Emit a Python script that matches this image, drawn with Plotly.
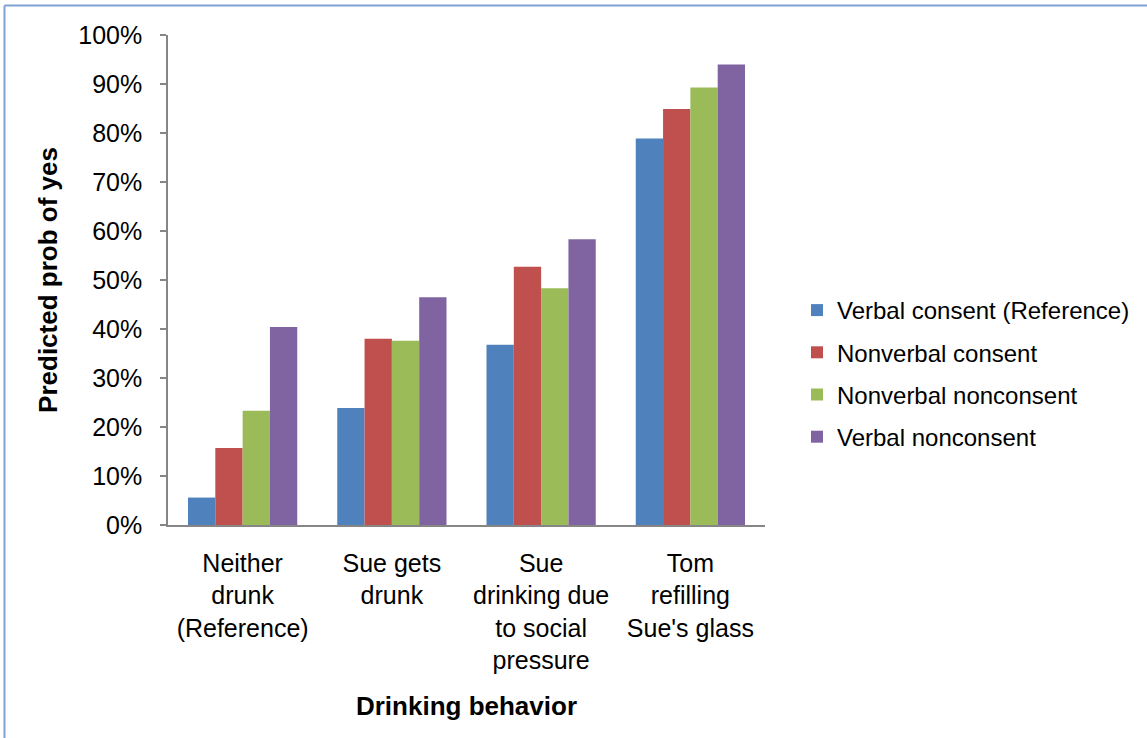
import plotly.graph_objects as go

# Drinking-behavior scenarios (category axis labels)
categories = [
    "Neither<br>drunk<br>(Reference)",
    "Sue gets<br>drunk",
    "Sue<br>drinking due<br>to social<br>pressure",
    "Tom<br>refilling<br>Sue's glass",
]

# Predicted probability of "yes" (%) per consent condition
series_names = [
    "Verbal consent (Reference)",
    "Nonverbal consent",
    "Nonverbal nonconsent",
    "Verbal nonconsent",
]
verbal_consent = [5.6, 23.9, 36.8, 78.9]
nonverbal_consent = [15.7, 38.0, 52.7, 84.9]
nonverbal_nonconsent = [23.3, 37.6, 48.3, 89.3]
verbal_nonconsent = [40.4, 46.5, 58.3, 94.0]

series_values = [verbal_consent, nonverbal_consent, nonverbal_nonconsent, verbal_nonconsent]
colors = ["#4F81BD", "#C0504D", "#9BBB59", "#8064A2"]

FONT = "Liberation Sans, Arial, sans-serif"
AXIS_GRAY = "#868686"

W, H = 1147, 738
L, R, T, B = 168, 382, 35, 213
pw, ph = W - L - R, H - T - B

fig = go.Figure()
for i, (name, vals, col) in enumerate(zip(series_names, series_values, colors)):
    fig.add_trace(go.Bar(
        x=categories, y=vals, name=name,
        marker=dict(color=col, line=dict(width=0)),
        legendgroup=f"g{i}",
    ))


def px_x(x):
    return (x - L) / pw


def px_y(y):
    return (H - B - y) / ph


# Thin outer frame along the top and left edges
frame = "#7FA0D2"
fig.add_shape(type="line", xref="paper", yref="paper",
              x0=px_x(4.5), x1=px_x(W + 5), y0=px_y(5.5), y1=px_y(5.5),
              line=dict(color=frame, width=2))
fig.add_shape(type="line", xref="paper", yref="paper",
              x0=px_x(4.5), x1=px_x(4.5), y0=px_y(5.5), y1=px_y(H + 5),
              line=dict(color=frame, width=2))

fig.update_layout(
    width=W, height=H, autosize=False,
    margin=dict(l=L, r=R, t=T, b=B),
    paper_bgcolor="white", plot_bgcolor="white",
    font=dict(family=FONT, size=24, color="#000000"),
    barmode="group", bargap=0.268, bargroupgap=0,
    showlegend=True,
    legend=dict(
        x=px_x(797), xanchor="left", y=px_y(373.5), yanchor="middle",
        font=dict(size=24, family=FONT), tracegroupgap=8,
        bgcolor="rgba(0,0,0,0)",
    ),
)

fig.update_yaxes(
    range=[0, 100], dtick=10, ticksuffix="%",
    showgrid=False, zeroline=False,
    showline=True, linecolor=AXIS_GRAY, linewidth=1.5,
    ticks="outside", ticklen=6, tickcolor=AXIS_GRAY, tickwidth=1.5,
    ticklabelstandoff=13,
    tickfont=dict(size=25, family=FONT),
    title=dict(text="<b>Predicted prob of yes</b>", font=dict(size=26, family=FONT), standoff=13),
)
fig.update_xaxes(
    showgrid=False, zeroline=False,
    showline=True, linecolor=AXIS_GRAY, linewidth=1.5,
    ticks="", tickangle=0,
    ticklabelstandoff=15,
    tickfont=dict(size=25, family=FONT),
    title=dict(text="<b>Drinking behavior</b>", font=dict(size=26, family=FONT), standoff=24),
)

fig.write_html("out.html")
